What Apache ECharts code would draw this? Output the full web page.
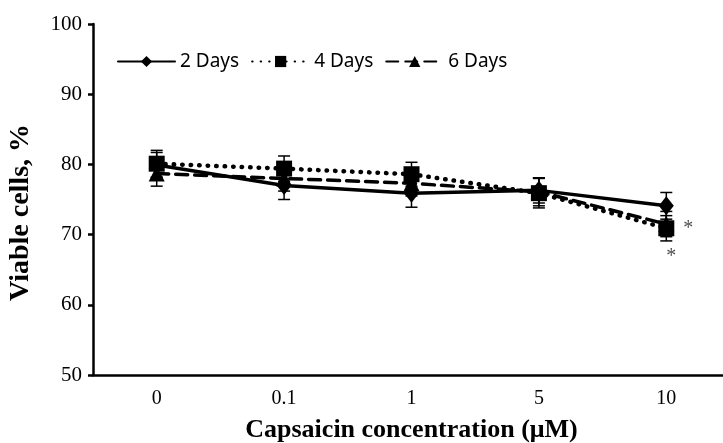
<!DOCTYPE html>
<html>
<head>
<meta charset="utf-8">
<script src="https://cdn.jsdelivr.net/npm/echarts@6/dist/echarts.min.js"></script>
<style>
  html, body { margin: 0; padding: 0; background: #fff; }
  #chart { width: 723px; height: 443px; }
</style>
</head>
<body>
<div id="chart"></div>
<script>
const categories = ['0', '0.1', '1', '5', '10']
const days2 = [79.9, 77.0, 75.9, 76.3, 74.1]
const days4 = [80.1, 79.4, 78.6, 75.9, 70.9]
const days6 = [78.7, 78.0, 77.3, 76.1, 71.5]
const sd2 = [1.8, 2.0, 2.0, 1.8, 1.9]
const sd4 = [1.9, 1.8, 1.7, 2.1, 1.8]
const sd6 = [1.8, 1.8, 1.8, 2.0, 1.8]
// significance marks: [category index, value]
const stars = [[4, 70.9], [4, 66.9]]

const chart = echarts.init(document.getElementById('chart'))

const errorData = (vals, sds) => vals.map((v, i) => [i, v - sds[i], v + sds[i]])

const renderError = (params, api) => {
  const lo = api.coord([api.value(0), api.value(1)])
  const hi = api.coord([api.value(0), api.value(2)])
  const w = 6
  const style = { stroke: '#000', lineWidth: 1.5 }
  return {
    type: 'group',
    children: [
      { type: 'line', shape: { x1: lo[0], y1: lo[1], x2: hi[0], y2: hi[1] }, style },
      { type: 'line', shape: { x1: lo[0] - w, y1: lo[1], x2: lo[0] + w, y2: lo[1] }, style },
      { type: 'line', shape: { x1: hi[0] - w, y1: hi[1], x2: hi[0] + w, y2: hi[1] }, style }
    ]
  }
}

const lineSeries = (name, data, symbol, type, width, z) => ({
  name,
  type: 'line',
  data,
  symbol,
  symbolSize: symbol === 'diamond' ? [15, 19] : 16,
  itemStyle: { color: '#000' },
  lineStyle: { color: '#000', width, type, cap: 'round' },
  z
})

chart.setOption({
  animation: false,
  textStyle: { fontFamily: 'Liberation Serif' },
  grid: { left: 93, right: -7, top: 24, bottom: 68, outerBoundsMode: 'none' },
  legend: {
    left: 112,
    top: 47,
    itemWidth: 57,
    itemHeight: 14,
    itemGap: 12,
    textStyle: { fontFamily: 'Noto Sans', fontSize: 19, color: '#000' },
    data: ['2 Days', '4 Days', '6 Days']
  },
  xAxis: {
    type: 'category',
    data: categories,
    name: 'Capsaicin concentration (μM)',
    nameLocation: 'middle',
    nameGap: 42,
    nameTextStyle: { fontFamily: 'Liberation Serif', fontSize: 26, fontWeight: 'bold', color: '#000' },
    axisLine: { lineStyle: { color: '#000', width: 2.5 } },
    axisTick: { length: 5, lineStyle: { color: '#000', width: 2.5 } },
    axisLabel: { fontFamily: 'Liberation Serif', fontSize: 20, color: '#000', margin: 14 }
  },
  yAxis: {
    type: 'value',
    min: 50,
    max: 100,
    interval: 10,
    name: 'Viable cells, %',
    nameLocation: 'middle',
    nameGap: 58,
    nameTextStyle: {
      fontFamily: 'Liberation Serif',
      fontSize: 28,
      fontWeight: 'bold',
      color: '#000',
      padding: [0, 26, 0, 0]
    },
    axisLine: { show: true, lineStyle: { color: '#000', width: 2.5 } },
    axisTick: { show: true, length: 5, lineStyle: { color: '#000', width: 2.5 } },
    axisLabel: { fontFamily: 'Liberation Serif', fontSize: 21, color: '#000', margin: 11 },
    splitLine: { show: false }
  },
  series: [
    lineSeries('2 Days', days2, 'diamond', 'solid', 3.5, 3),
    lineSeries('4 Days', days4, 'rect', [0.5, 8], 4.5, 4),
    lineSeries('6 Days', days6, 'triangle', [12, 7], 3.5, 5),
    { type: 'custom', renderItem: renderError, data: errorData(days2, sd2), z: 2 },
    { type: 'custom', renderItem: renderError, data: errorData(days4, sd4), z: 2 },
    { type: 'custom', renderItem: renderError, data: errorData(days6, sd6), z: 2 },
    {
      type: 'scatter',
      data: stars,
      symbolSize: 1,
      z: 10,
      itemStyle: { color: 'rgba(0,0,0,0)' },
      label: {
        show: true,
        formatter: '*',
        position: 'inside',
        fontFamily: 'Liberation Serif',
        fontSize: 20,
        color: '#222'
      },
      labelLayout: (params) => ({ dx: params.dataIndex === 0 ? 22 : 5 })
    }
  ]
})
</script>
</body>
</html>
